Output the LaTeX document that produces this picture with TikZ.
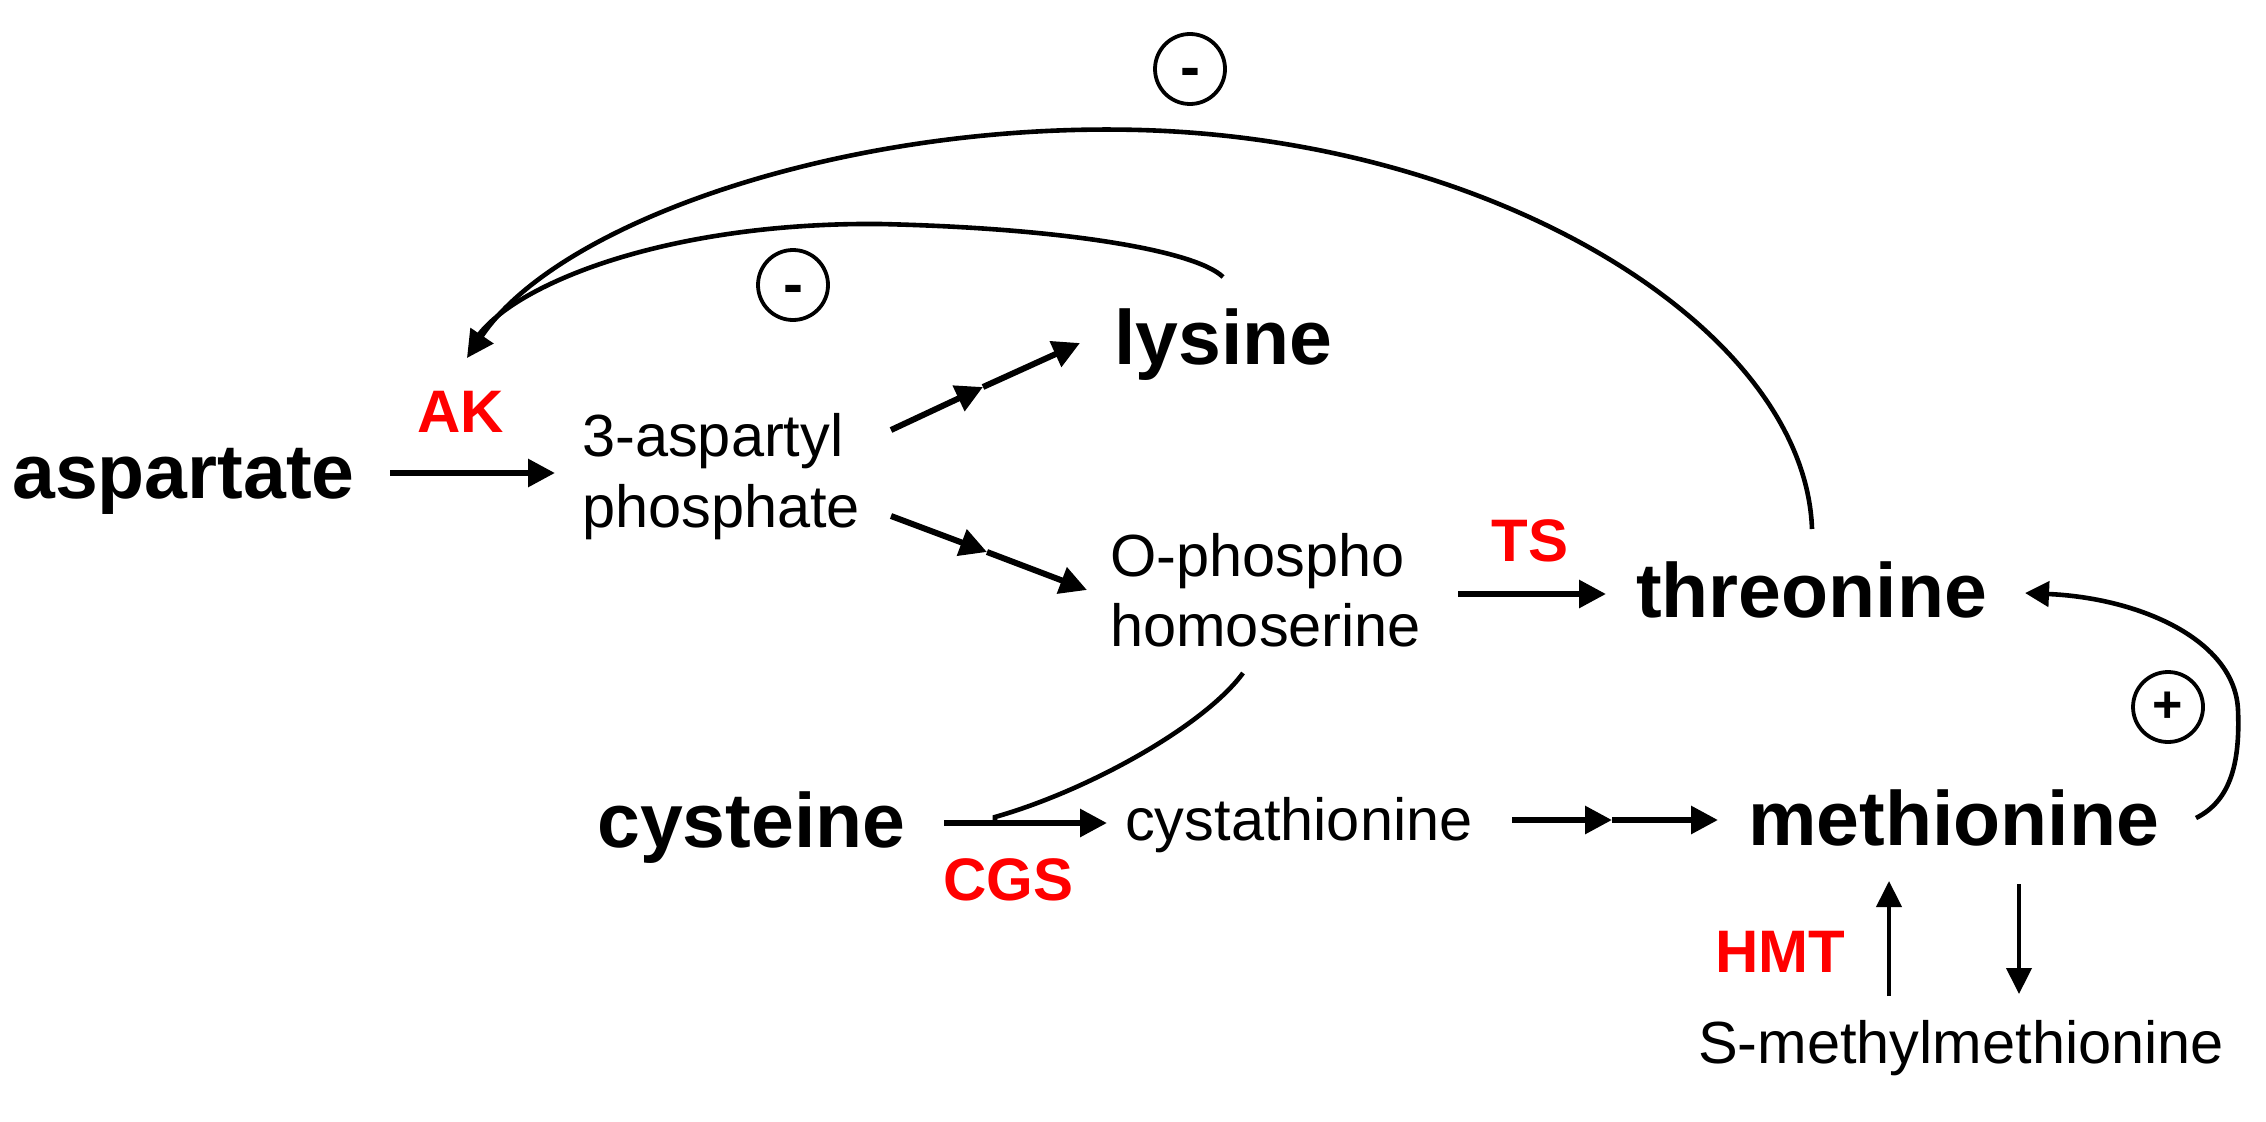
\documentclass[tikz,border=0pt]{standalone}
\usepackage{fontspec}
\setmainfont{Liberation Sans}
\usetikzlibrary{arrows.meta}
\begin{document}
\begin{tikzpicture}[x=1pt,y=-1pt,
  big/.style={font=\fontsize{77}{90}\selectfont\bfseries, inner sep=0pt, anchor=base west},
  small/.style={font=\fontsize{59.5}{70}\selectfont, inner sep=0pt, anchor=base west},
  enz/.style={font=\fontsize{60}{70}\selectfont\bfseries, text=red, inner sep=0pt, anchor=base},
  circ/.style={circle, draw, line width=3.8pt, minimum size=70pt, inner sep=0pt},
  signm/.style={font=\fontsize{60}{70}\selectfont\bfseries, inner sep=0pt, anchor=base},
  signp/.style={font=\fontsize{52}{60}\selectfont\bfseries, inner sep=0pt, anchor=base},
  arr/.style={line width=6pt, -{Triangle[length=27pt,width=27pt]}},
  thinarr/.style={line width=4.2pt, -{Triangle[length=26pt,width=25pt]}},
  arc/.style={line width=4.6pt},
]
\useasboundingbox (0,0) rectangle (2266,1121);

% metabolites
\node[big] (asp) at (12,498) {aspartate};
\node[small] (ap1) at (582,456) {3-aspartyl};
\node[small] (ap2) at (582,527) {phosphate};
\node[big] (lys) at (1114,364) {lysine};
\node[small] (oph1) at (1110,576) {O-phospho};
\node[small] (oph2) at (1110,646) {homoserine};
\node[big] (thr) at (1636,617) {threonine};
\node[big] (cys) at (597,847) {cysteine};
\node[small] (cst) at (1125,840) {cystathionine};
\node[big] (met) at (1748,845) {methionine};
\node[small] (smm) at (1698,1063) {S-methylmethionine};

% enzymes
\node[enz] (ak) at (461,432) {AK};
\node[enz] (ts) at (1530,561) {TS};
\node[enz] (cgs) at (1008,900) {CGS};
\node[enz] (hmt) at (1780,972) {HMT};

% regulation circles
\node[circ] (m1) at (1190,69) {};
\node[signm] (m1s) at ([yshift=-19pt]m1.center) {-};
\node[circ] (m2) at (793,285) {};
\node[signm] (m2s) at ([yshift=-19pt]m2.center) {-};
\node[circ] (p1) at (2168,707) {};
\node[signp] (p1s) at ([yshift=-15pt]p1.center) {+};

% connector end points
\coordinate (a1s) at (390,473);  \coordinate (a1e) at (555,473);
\coordinate (l0) at (891,430);   \coordinate (lm) at (983,387);  \coordinate (l1) at (1080,343);
\coordinate (h0) at (891,516);   \coordinate (hm) at (987,552);  \coordinate (h1) at (1087,590);
\coordinate (t0) at (1458,594);  \coordinate (t1) at (1606,594);
\coordinate (c0) at (944,823);   \coordinate (c1) at (1107,823);
\coordinate (s0) at (1512,820);  \coordinate (sm) at (1612,820); \coordinate (s1) at (1718,820);
\coordinate (u0) at (1889,996);  \coordinate (u1) at (1889,881);
\coordinate (d0) at (2019,884);  \coordinate (d1) at (2019,994);
\coordinate (thrtop) at (1812,529);
\coordinate (lystop) at (1223,277);
\coordinate (aktip) at (467,358);
\coordinate (akin) at (474,342);
\coordinate (homb) at (1243,673);
\coordinate (join) at (995,817);
\coordinate (joinb) at (995,823);
\coordinate (metr) at (2196,818);
\coordinate (thrr) at (2025,593);

% straight arrows
\draw[arr] (a1s) -- (a1e);
\draw[arr] (l0) -- (lm);
\draw[arr] (lm) -- (l1);
\draw[arr] (h0) -- (hm);
\draw[arr] (hm) -- (h1);
\draw[arr] (t0) -- (t1);
\draw[arr] (c0) -- (c1);
\draw[arr] (s0) -- (sm);
\draw[arr] (sm) -- (s1);
\draw[thinarr] (u0) -- (u1);
\draw[thinarr] (d0) -- (d1);

% feedback arcs
\draw[arc, -{Triangle[length=27pt,width=27pt]}] (thrtop)
  .. controls (1805,330) and (1500,140) .. (1140,130)
  .. controls (850,122) and (560,220) .. (aktip);
\draw[arc] (lystop)
  .. controls (1195,250) and (1060,228) .. (880,224)
  .. controls (660,222) and (505,288) .. (akin);

% homoserine to CGS reaction
\draw[arc] (homb) .. controls (1205,725) and (1090,790) .. (join) -- (joinb);

% methionine activates threonine
\draw[arc, -{Triangle[length=24pt,width=25pt]}] (metr)
  .. controls (2232,800) and (2240,760) .. (2238,710)
  .. controls (2235,640) and (2140,598) .. (thrr);
\end{tikzpicture}
\end{document}
